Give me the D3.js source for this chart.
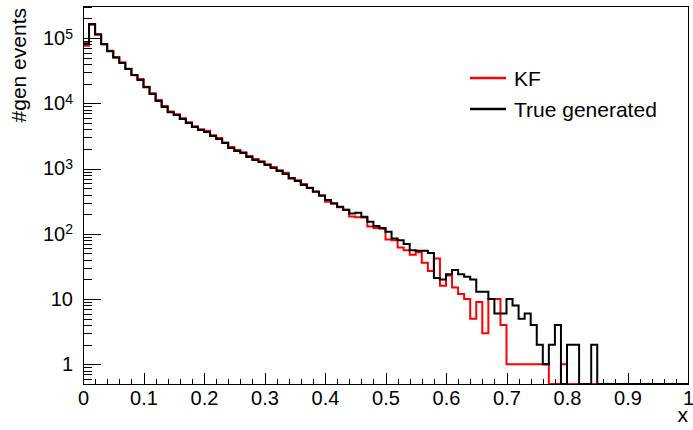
<!DOCTYPE html>
<html>
<head>
<meta charset="utf-8">
<script src="https://cdn.jsdelivr.net/npm/d3@7"></script>
<style>
  html, body { margin: 0; padding: 0; background: #fff; }
  svg { display: block; }
  text { font-family: "Liberation Sans", Arial, Helvetica, sans-serif; fill: #000; }
</style>
</head>
<body>
<svg id="chart" width="693" height="430"></svg>
<script>
// Histogram binning: 100 bins of width 0.01 on [0, 1]
const nBins = 100;
const xRange = [0, 1];

// Bin contents, reconstructed kinematics (KF)
const kfCounts = [
  76000, 160000, 112000, 80000, 64000, 50000, 42500, 34000, 27000, 23500,
  17900, 14300, 11200, 9100, 7500, 6800, 5900, 5150, 4450, 4000,
  3800, 3250, 2950, 2500, 2150, 1930, 1780, 1560, 1400, 1290,
  1170, 1060, 940, 860, 700, 660, 580, 510, 445, 390,
  310, 290, 255, 235, 185, 180, 178, 130, 123, 120,
  82, 80, 62, 56, 48, 52, 36, 27, 42, 16,
  23, 15, 12, 10, 5, 9, 3, 10, 10, 4,
  1, 1, 1, 1, 1, 1, 1, 0, 0, 1,
  0, 0, 0, 0, 0, 0, 0, 0, 0, 0,
  0, 0, 0, 0, 0, 0, 0, 0, 0, 0
];

// Bin contents, true generated kinematics
const genCounts = [
  83000, 164000, 114000, 81000, 63000, 51000, 41500, 33600, 27200, 22800,
  17700, 13900, 10900, 8800, 7300, 6600, 5750, 5000, 4330, 3900,
  3630, 3150, 2840, 2460, 2070, 1860, 1730, 1500, 1350, 1260,
  1130, 1020, 916, 824, 716, 644, 560, 504, 440, 385,
  330, 293, 260, 232, 205, 210, 183, 153, 132, 123,
  108, 85, 80, 70, 56, 55, 55, 51, 21, 20,
  24, 28, 24, 22, 20, 13, 13, 10, 6, 6,
  10, 8, 5, 6, 4, 2, 1, 2, 4, 0,
  2, 2, 0, 0, 2, 0, 0, 0, 0, 0,
  0, 0, 0, 0, 0, 0, 0, 0, 0, 0
];

const xTickValues = [0, 0.1, 0.2, 0.3, 0.4, 0.5, 0.6, 0.7, 0.8, 0.9, 1];
const yTickValues = [1, 10, 100, 1000, 10000, 100000];
const seriesNames = ["KF", "True generated"];
const seriesColors = ["#ff0000", "#000000"];

const svg = d3.select("#chart");
const W = 693, H = 430;
const frame = { left: 83, right: 688, top: 6, bottom: 384 };
const yMin = 0.5, yMax = 3.1e5;

svg.append("rect").attr("width", W).attr("height", H).attr("fill", "#fff");

const x = d3.scaleLinear().domain(xRange).range([frame.left, frame.right]);
const y = d3.scaleLog().domain([yMin, yMax]).range([frame.bottom, frame.top]);

const binW = (xRange[1] - xRange[0]) / nBins;
function stepPoints(counts) {
  const pts = [];
  counts.forEach((c, i) => {
    const lo = xRange[0] + i * binW, hi = lo + binW;
    pts.push([lo, c], [hi, c]);
  });
  return pts;
}
const line = d3.line()
  .x(d => x(d[0]))
  .y(d => y(Math.max(d[1], yMin)));

const plot = svg.append("g");
[kfCounts, genCounts].forEach((counts, k) => {
  plot.append("path")
    .attr("d", line(stepPoints(counts)))
    .attr("fill", "none")
    .attr("stroke", seriesColors[k])
    .attr("stroke-width", 2)
    .attr("stroke-linejoin", "miter");
});

// Frame
svg.append("rect")
  .attr("x", frame.left).attr("y", frame.top)
  .attr("width", frame.right - frame.left).attr("height", frame.bottom - frame.top)
  .attr("fill", "none").attr("stroke", "#000").attr("stroke-width", 1)
  .attr("shape-rendering", "crispEdges");

// X axis: major ticks with labels, minor ticks every 0.02, ticks pointing inward
const xMajorLen = 11, xMinorLen = 5.5;
const xAxis = d3.axisBottom(x).tickValues(xTickValues)
  .tickSizeInner(-xMajorLen).tickSizeOuter(0).tickPadding(7)
  .tickFormat(d => d3.format("~g")(d));
const gx = svg.append("g").attr("transform", `translate(0,${frame.bottom})`).call(xAxis);
gx.select(".domain").remove();
gx.selectAll("text").attr("font-size", 20).attr("font-family", null);
gx.selectAll("line").attr("shape-rendering", "crispEdges");

const xMinor = d3.range(0, 51).map(i => i * 0.02).filter(v => Math.abs(v * 10 - Math.round(v * 10)) > 1e-6);
const gxm = svg.append("g").attr("transform", `translate(0,${frame.bottom})`)
  .call(d3.axisBottom(x).tickValues(xMinor).tickSizeInner(-xMinorLen).tickSizeOuter(0).tickFormat(""));
gxm.select(".domain").remove();
gxm.selectAll("line").attr("shape-rendering", "crispEdges");

// Y axis: log scale, decade labels as powers of ten
const yMajorLen = 18, yMinorLen = 9;
const yAxis = d3.axisLeft(y).tickValues(yTickValues)
  .tickSizeInner(-yMajorLen).tickSizeOuter(0).tickPadding(10)
  .tickFormat(d => String(d));
const gy = svg.append("g").attr("transform", `translate(${frame.left},0)`).call(yAxis);
gy.select(".domain").remove();
gy.selectAll("line").attr("shape-rendering", "crispEdges");
gy.selectAll("text")
  .attr("font-size", 20).attr("font-family", null)
  .each(function(d) {
    const t = d3.select(this);
    const exp = Math.round(Math.log10(d));
    if (exp >= 2) {
      t.text(null);
      t.append("tspan").text("10");
      t.append("tspan").attr("font-size", 14).attr("dy", "-0.45em").text(exp);
    }
  });

const yMinor = [];
for (let e = -1; e <= 5; e++) {
  for (let m = 1; m <= 9; m++) {
    const v = m * Math.pow(10, e);
    if (m !== 1 && v >= yMin && v <= yMax) yMinor.push(v);
  }
}
const gym = svg.append("g").attr("transform", `translate(${frame.left},0)`)
  .call(d3.axisLeft(y).tickValues(yMinor).tickSizeInner(-yMinorLen).tickSizeOuter(0).tickFormat(""));
gym.select(".domain").remove();
gym.selectAll("line").attr("shape-rendering", "crispEdges");

// Axis titles
svg.append("text")
  .attr("transform", "translate(26,8) rotate(-90)")
  .attr("text-anchor", "end")
  .attr("font-size", 21)
  .text("#gen events");
svg.append("text")
  .attr("x", 688).attr("y", 422)
  .attr("text-anchor", "end")
  .attr("font-size", 21)
  .text("x");

// Legend
const legend = svg.append("g");
const legendY = [78, 109];
seriesNames.forEach((name, k) => {
  legend.append("line")
    .attr("x1", 470).attr("x2", 506)
    .attr("y1", legendY[k]).attr("y2", legendY[k])
    .attr("stroke", seriesColors[k]).attr("stroke-width", 2.5);
  legend.append("text")
    .attr("x", 514).attr("y", legendY[k]).attr("dy", "0.36em")
    .attr("font-size", 21)
    .text(name);
});
</script>
</body>
</html>
